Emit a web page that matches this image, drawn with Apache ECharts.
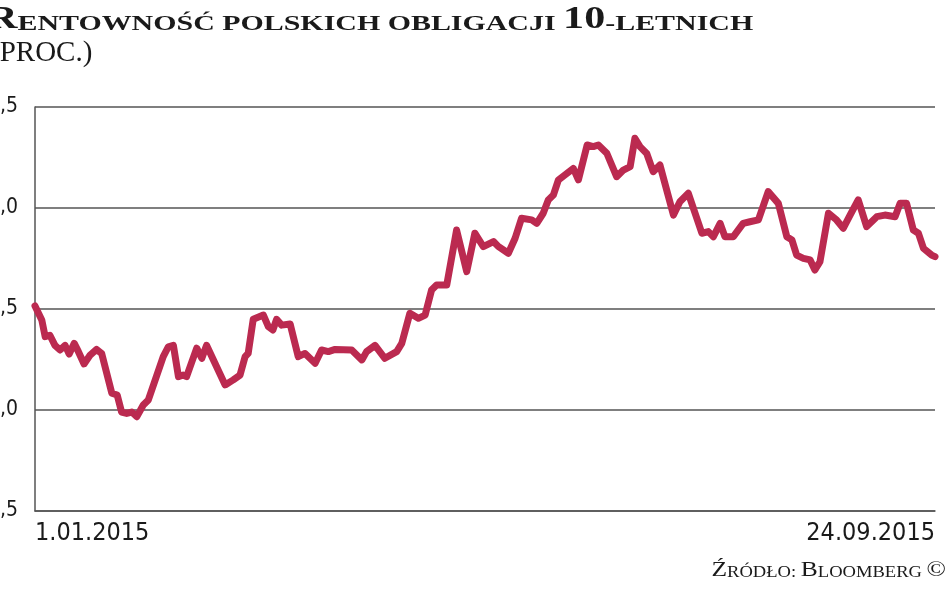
<!DOCTYPE html>
<html><head><meta charset="utf-8">
<script src="https://cdn.jsdelivr.net/npm/echarts@6/dist/echarts.min.js"></script>
<style>html,body{margin:0;padding:0;background:#fff;overflow:hidden}#c{width:948px;height:593px}</style>
</head><body><div id="c"></div>
<script>
// Tick labels
const xTickLabels = ['1.01.2015', '24.09.2015'];
const yTickLabels = ['1,5', '2,0', '2,5', '3,0', '3,5'];
// Days since 1 Jan 2015 and 10-year yield (%)
const dayOffsets = [0, 2.0, 3.0, 4.4, 5.9, 7.4, 8.9, 10.1, 11.6, 12.8, 14.5, 16.3, 18.2, 19.7, 22.7, 24.3, 25.6, 27.1, 28.6, 30.1,
  32.0, 33.5, 37.9, 39.4, 40.9, 42.4, 43.8, 44.8, 47.8, 49.3, 50.7, 56.2, 58.6, 60.6, 62.1, 63.0, 64.5, 67.5, 69.0, 70.3,
  71.4, 72.9, 75.4, 77.8, 79.8, 82.8, 84.7, 86.7, 88.7, 93.6, 96.6, 98.0, 100.5, 103.4, 106.9, 108.4, 110.8, 113.3, 115.3, 117.2,
  118.7, 121.7, 124.6, 127.6, 130.0, 132.5, 135.5, 136.9, 139.9, 141.9, 143.8, 146.8, 148.3, 150.2, 151.7, 153.2, 154.7, 156.6, 159.1, 160.6,
  163.2, 165.0, 166.5, 169.0, 171.9, 173.9, 175.9, 177.3, 178.8, 180.8, 182.7, 184.7, 188.7, 190.6, 193.1, 197.1, 199.0, 200.5, 202.5, 203.9,
  206.4, 209.3, 211.3, 213.8, 216.7, 219.7, 222.2, 223.7, 225.1, 227.1, 229.1, 230.5, 232.0, 234.5, 236.9, 238.9, 240.9, 243.3, 245.8, 248.8,
  251.2, 254.2, 255.7, 257.6, 259.6, 261.1, 262.6, 265.0, 266];
const yields = [2.515, 2.446, 2.363, 2.37, 2.32, 2.297, 2.32, 2.277, 2.33, 2.29, 2.228, 2.272, 2.30, 2.28, 2.083, 2.074, 1.99, 1.983, 1.99, 1.967,
  2.025, 2.05, 2.264, 2.313, 2.32, 2.165, 2.173, 2.165, 2.306, 2.256, 2.32, 2.124, 2.149, 2.173, 2.264, 2.28, 2.449, 2.47, 2.412, 2.396,
  2.449, 2.42, 2.426, 2.264, 2.28, 2.231, 2.297, 2.289, 2.30, 2.297, 2.248, 2.289, 2.32, 2.256, 2.289, 2.33, 2.479, 2.454, 2.47, 2.594,
  2.619, 2.619, 2.891, 2.685, 2.875, 2.809, 2.834, 2.81, 2.776, 2.85, 2.949, 2.941, 2.924, 2.974, 3.04, 3.064, 3.139, 3.163, 3.196, 3.139,
  3.312, 3.304, 3.312, 3.271, 3.155, 3.188, 3.205, 3.345, 3.304, 3.27, 3.18, 3.213, 2.965, 3.031, 3.073, 2.875, 2.883, 2.858, 2.924, 2.858,
  2.858, 2.924, 2.932, 2.941, 3.081, 3.023, 2.858, 2.842, 2.767, 2.751, 2.743, 2.693, 2.734, 2.974, 2.941, 2.90, 2.965, 3.04, 2.908, 2.957,
  2.965, 2.957, 3.023, 3.023, 2.891, 2.875, 2.80, 2.767, 2.759];

const seriesData = dayOffsets.map((d, i) => [d, yields[i]]);
const lastDay = dayOffsets[dayOffsets.length - 1];

const chart = echarts.init(document.getElementById('c'), null, { renderer: 'canvas' });
const axisColor = '#555555';
const serif = '"Liberation Serif", serif';
chart.setOption({
  animation: false,
  backgroundColor: '#ffffff',
  grid: { left: 35, right: 13, top: 107, bottom: 82, containLabel: false, outerBoundsMode: 'none' },
  xAxis: {
    type: 'value', min: 0, max: lastDay, interval: lastDay,
    axisLine: { show: true, lineStyle: { color: axisColor, width: 1.5 } },
    axisTick: { show: false },
    splitLine: { show: false },
    axisLabel: {
      margin: 10, fontFamily: 'DejaVu Sans Condensed', fontSize: 25, color: '#1a1a1a',
      showMinLabel: true, showMaxLabel: true, alignMinLabel: 'left', alignMaxLabel: 'right',
      formatter: v => (v === 0 ? xTickLabels[0] : (v === lastDay ? xTickLabels[1] : ''))
    }
  },
  yAxis: {
    type: 'value', min: 1.5, max: 3.5, interval: 0.5,
    axisLine: { show: true, lineStyle: { color: axisColor, width: 1.5 } },
    axisTick: { show: false },
    splitLine: { show: true, lineStyle: { color: axisColor, width: 1.5 } },
    axisLabel: {
      margin: 17, fontFamily: 'DejaVu Sans Condensed', fontSize: 21, color: '#1a1a1a',
      formatter: v => yTickLabels[Math.round((v - 1.5) / 0.5)]
    }
  },
  series: [{
    type: 'line', data: seriesData, showSymbol: false, smooth: false,
    lineStyle: { color: '#bb2a50', width: 7, cap: 'round', join: 'round' }
  }],
  graphic: [
    {
      type: 'text', x: -13, y: 3, scale: [1.36, 1],
      style: {
        text: '{a|R}{b|ENTOWNOŚĆ POLSKICH OBLIGACJI }{a|10}{b|-LETNICH}',
        rich: {
          a: { fontFamily: serif, fontWeight: 'bold', fontSize: 31, fill: '#1a1a1a', verticalAlign: 'bottom', lineHeight: 32 },
          b: { fontFamily: serif, fontWeight: 'bold', fontSize: 22, fill: '#1a1a1a', verticalAlign: 'bottom', lineHeight: 28 }
        }
      }
    },
    {
      type: 'text', x: -10, y: 39,
      style: { text: '(PROC.)', fontFamily: serif, fontSize: 29, fill: '#1a1a1a' }
    },
    {
      type: 'text', x: 946, y: 559, scale: [1.16, 1],
      style: {
        text: '{a|Ź}{b|RÓDŁO: }{a|B}{b|LOOMBERG }{a|©}', align: 'right',
        rich: {
          a: { fontFamily: serif, fontSize: 22, fill: '#1a1a1a', verticalAlign: 'bottom', lineHeight: 22 },
          b: { fontFamily: serif, fontSize: 16, fill: '#1a1a1a', verticalAlign: 'bottom', lineHeight: 19 }
        }
      }
    }
  ]
});
</script>
</body></html>
